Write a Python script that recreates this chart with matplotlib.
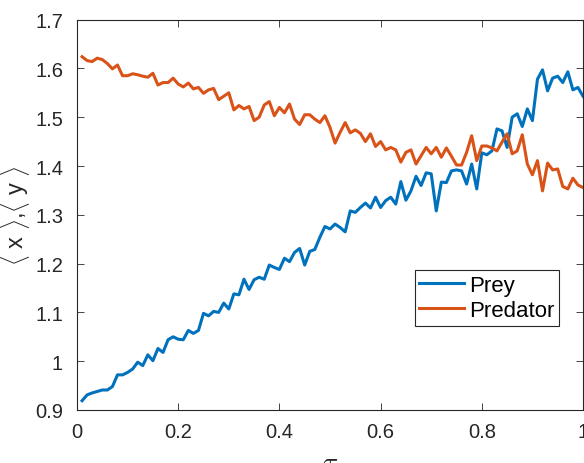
import numpy as np
import matplotlib
matplotlib.use("Agg")
import matplotlib.pyplot as plt

plt.rcParams['font.family'] = ['Liberation Sans', 'DejaVu Sans']
plt.rcParams['mathtext.fontset'] = 'cm'

# time axis
tau = np.arange(1, 101) / 100

prey = [0.919, 0.931, 0.935, 0.938, 0.941, 0.941, 0.948, 0.972, 0.972, 0.977,
        0.984, 0.998, 0.991, 1.013, 1.001, 1.026, 1.018, 1.044, 1.050, 1.045,
        1.044, 1.063, 1.057, 1.063, 1.098, 1.093, 1.102, 1.100, 1.119, 1.107,
        1.138, 1.136, 1.168, 1.147, 1.167, 1.172, 1.168, 1.197, 1.192, 1.188,
        1.211, 1.204, 1.223, 1.231, 1.197, 1.225, 1.229, 1.254, 1.276, 1.271,
        1.281, 1.274, 1.265, 1.308, 1.305, 1.315, 1.324, 1.314, 1.336, 1.315,
        1.329, 1.336, 1.322, 1.368, 1.330, 1.349, 1.379, 1.360, 1.386, 1.384,
        1.308, 1.367, 1.366, 1.390, 1.392, 1.390, 1.363, 1.404, 1.353, 1.427,
        1.423, 1.431, 1.476, 1.472, 1.438, 1.500, 1.507, 1.481, 1.517, 1.493,
        1.578, 1.597, 1.554, 1.580, 1.584, 1.571, 1.593, 1.556, 1.561, 1.543]

predator = [1.624, 1.616, 1.614, 1.621, 1.618, 1.610, 1.599, 1.607, 1.585, 1.585,
            1.589, 1.587, 1.584, 1.582, 1.590, 1.566, 1.571, 1.571, 1.580, 1.568,
            1.562, 1.570, 1.558, 1.561, 1.549, 1.556, 1.559, 1.536, 1.543, 1.550,
            1.515, 1.524, 1.517, 1.522, 1.493, 1.500, 1.525, 1.532, 1.503, 1.520,
            1.509, 1.527, 1.496, 1.485, 1.505, 1.505, 1.496, 1.489, 1.503, 1.479,
            1.447, 1.469, 1.489, 1.468, 1.474, 1.467, 1.450, 1.466, 1.440, 1.450,
            1.433, 1.438, 1.433, 1.408, 1.428, 1.433, 1.404, 1.421, 1.438, 1.425,
            1.438, 1.418, 1.437, 1.420, 1.402, 1.402, 1.428, 1.462, 1.411, 1.441,
            1.441, 1.437, 1.431, 1.449, 1.466, 1.425, 1.431, 1.464, 1.404, 1.382,
            1.411, 1.349, 1.406, 1.392, 1.394, 1.358, 1.353, 1.375, 1.361, 1.356]

xticks = [0, 0.2, 0.4, 0.6, 0.8, 1]
xticklabels = ['0', '0.2', '0.4', '0.6', '0.8', '1']
yticks = [0.9, 1.0, 1.1, 1.2, 1.3, 1.4, 1.5, 1.6, 1.7]
yticklabels = ['0.9', '1', '1.1', '1.2', '1.3', '1.4', '1.5', '1.6', '1.7']

fig = plt.figure(figsize=(5.84, 4.64), dpi=100)
ax = fig.add_axes([77/584, 53/464, 506/584, 390.4/464])

ax.plot(tau, prey, color='#0072BD', lw=2.2, label='Prey')
ax.plot(tau, predator, color='#D95319', lw=2.2, label='Predator')

ax.set_xlim(0, 1)
ax.set_ylim(0.9, 1.7)
ax.set_xticks(xticks)
ax.set_xticklabels(xticklabels)
ax.set_yticks(yticks)
ax.set_yticklabels(yticklabels)
ax.tick_params(direction='in', top=True, right=True, labelsize=14.5,
               colors='#262626', length=5, width=0.6)
ax.tick_params(axis='x', pad=9)
ax.tick_params(axis='y', pad=10)
for s in ax.spines.values():
    s.set_color('#262626')
    s.set_linewidth(0.8)

ax.set_xlabel(r'$\tau$', fontsize=20, color='#262626', labelpad=6)
ax.set_ylabel(r'$\langle$ x $\rangle$,$\langle$ y $\rangle$', fontsize=17,
              color='#262626')
ax.yaxis.set_label_coords(-0.088, 0.5)

leg = ax.legend(loc='upper left', bbox_to_anchor=(0.668, 0.358), fontsize=16,
                frameon=True, fancybox=False, framealpha=1, edgecolor='#262626',
                handlelength=2.0, borderpad=0.2, labelspacing=0.2,
                handletextpad=0.25, borderaxespad=0)
leg.get_frame().set_linewidth(0.8)

fig.savefig('out.png', dpi=100)
